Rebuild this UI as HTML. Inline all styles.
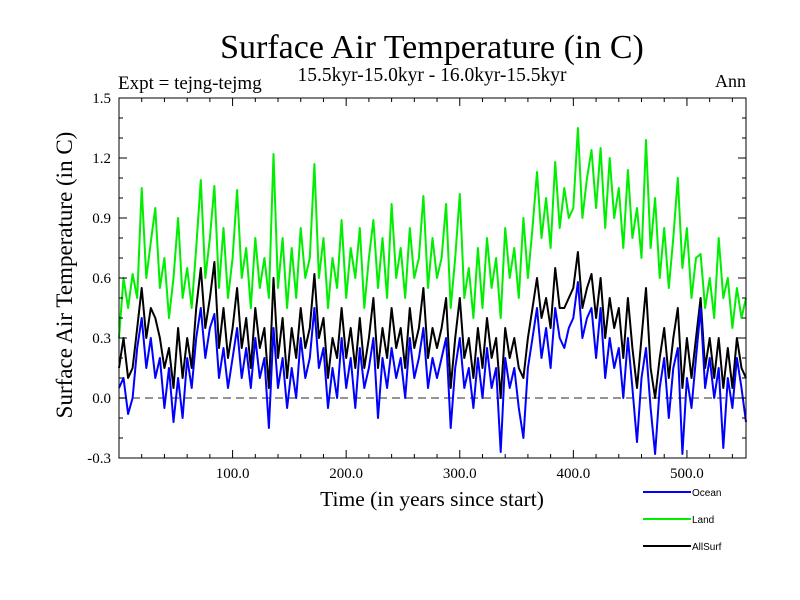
<!DOCTYPE html>
<html><head><meta charset="utf-8"><style>
html,body{margin:0;padding:0;background:#fff;}
svg{display:block;font-family:"Liberation Serif",serif;}
</style></head><body>
<svg id="chart" width="800" height="600" viewBox="0 0 800 600">
<text x="432" y="58" text-anchor="middle" font-size="34">Surface Air Temperature (in C)</text>
<text x="432" y="81" text-anchor="middle" font-size="19.5">15.5kyr-15.0kyr - 16.0kyr-15.5kyr</text>
<text x="118" y="89" font-size="19">Expt = tejng-tejmg</text>
<text x="746" y="87" text-anchor="end" font-size="18">Ann</text>
<text transform="translate(72,275) rotate(-90)" text-anchor="middle" font-size="23">Surface Air Temperature (in C)</text>
<text x="432" y="506" text-anchor="middle" font-size="21.5">Time (in years since start)</text>
<g id="plot"></g>
<g id="axes"></g>
<g id="legend"></g>
</svg>
<script>
const startYear = 0;
const stepYears = 4;
const landValues = [0.3,0.6,0.45,0.62,0.5,1.05,0.6,0.78,0.95,0.55,
0.7,0.4,0.6,0.9,0.5,0.65,0.45,0.75,1.09,0.6,
0.8,1.06,0.55,0.85,0.5,0.7,1.04,0.6,0.75,0.45,
0.8,0.55,0.7,0.5,1.22,0.55,0.8,0.45,0.75,0.5,
0.85,0.6,0.7,1.17,0.6,0.8,0.45,0.7,0.55,0.89,
0.5,0.75,0.6,0.85,0.45,0.7,0.89,0.55,0.8,0.5,
0.97,0.6,0.75,0.5,0.85,0.6,0.7,1.01,0.55,0.8,
0.6,0.7,0.97,0.45,0.7,1.02,0.5,0.65,0.4,0.75,
0.45,0.8,0.55,0.7,0.4,0.85,0.6,0.75,0.5,0.9,
0.6,0.85,1.13,0.8,1.0,0.75,1.18,0.85,1.05,0.9,
0.95,1.35,0.9,1.1,1.24,0.95,1.25,0.85,1.2,0.9,
1.05,0.75,1.14,0.8,0.95,0.7,1.29,0.75,1.0,0.6,
0.85,0.55,0.8,1.1,0.65,0.85,0.5,0.7,0.72,0.45,
0.6,0.4,0.8,0.5,0.6,0.35,0.55,0.4,0.5];
const oceanValues = [0.05,0.1,-0.08,0.0,0.25,0.4,0.15,0.3,0.1,0.2,
-0.05,0.15,-0.12,0.1,-0.1,0.2,0.05,0.3,0.45,0.2,
0.35,0.42,0.1,0.25,0.05,0.2,0.35,0.1,0.25,0.05,
0.3,0.1,0.2,-0.15,0.35,0.05,0.2,-0.05,0.15,0.0,
0.3,0.1,0.2,0.45,0.15,0.25,-0.05,0.15,0.0,0.3,
0.05,0.2,-0.05,0.25,0.05,0.15,0.3,-0.1,0.2,0.05,
0.25,0.1,0.2,0.0,0.3,0.1,0.2,0.35,0.05,0.2,
0.1,0.2,0.3,-0.15,0.15,0.3,0.05,0.15,-0.05,0.2,
0.0,0.25,0.05,0.15,-0.27,0.2,0.05,0.15,-0.05,-0.2,
0.15,0.3,0.45,0.2,0.35,0.15,0.45,0.3,0.25,0.35,
0.4,0.58,0.3,0.4,0.45,0.2,0.45,0.1,0.3,0.15,
0.25,0.0,0.3,0.05,-0.22,0.1,0.25,-0.05,-0.28,0.05,
0.2,-0.1,0.15,0.25,-0.28,0.1,-0.05,0.2,0.45,0.05,
0.2,0.0,0.15,-0.25,0.1,-0.05,0.2,0.05,-0.12];
const allSurfValues = [0.15,0.3,0.1,0.15,0.35,0.55,0.3,0.45,0.4,0.3,
0.15,0.25,0.05,0.35,0.1,0.3,0.15,0.45,0.65,0.35,
0.5,0.68,0.25,0.45,0.2,0.35,0.55,0.25,0.4,0.15,
0.45,0.25,0.35,0.05,0.6,0.2,0.4,0.1,0.35,0.2,
0.45,0.25,0.35,0.62,0.3,0.4,0.1,0.3,0.2,0.45,
0.2,0.35,0.15,0.4,0.15,0.3,0.5,0.15,0.35,0.2,
0.45,0.25,0.35,0.15,0.45,0.25,0.35,0.55,0.2,0.35,
0.25,0.35,0.5,0.05,0.3,0.5,0.2,0.3,0.1,0.35,
0.15,0.4,0.2,0.3,0.0,0.35,0.2,0.3,0.15,0.1,
0.3,0.45,0.6,0.4,0.5,0.35,0.65,0.45,0.45,0.5,
0.55,0.73,0.45,0.55,0.62,0.4,0.6,0.3,0.5,0.35,
0.45,0.2,0.5,0.25,0.05,0.3,0.55,0.15,0.0,0.2,
0.35,0.1,0.3,0.45,0.05,0.3,0.1,0.3,0.5,0.15,
0.3,0.1,0.3,0.05,0.25,0.05,0.3,0.15,0.1];
const xTickValues = [100,200,300,400,500];
const xTickLabels = ["100.0","200.0","300.0","400.0","500.0"];
const yTickValues = [-0.3,0.0,0.3,0.6,0.9,1.2,1.5];
const yTickLabels = ["-0.3","0.0","0.3","0.6","0.9","1.2","1.5"];
const legendNames = ["Ocean","Land","AllSurf"];
const legendColors = ["#0000ff","#00ee00","#000000"];

const NS="http://www.w3.org/2000/svg";
const L=119,R=746,T=98,B=458,xMin=0,xMax=552,yMin=-0.3,yMax=1.5;
function xs(v){return L+(v-xMin)/(xMax-xMin)*(R-L);}
function ys(v){return B-(v-yMin)/(yMax-yMin)*(B-T);}
function mk(tag,attrs,parent){const e=document.createElementNS(NS,tag);for(const k in attrs)e.setAttribute(k,attrs[k]);parent.appendChild(e);return e;}
const plot=document.getElementById('plot'),axes=document.getElementById('axes'),legend=document.getElementById('legend');

const zl=mk('line',{x1:L,x2:R,y1:ys(0),y2:ys(0),stroke:'#555','stroke-width':1.3,'stroke-dasharray':'8,5'},plot);



function series(vals,color,name){
  const pts=vals.map((v,i)=>xs(startYear+i*stepYears).toFixed(1)+','+ys(v).toFixed(1)).join(' ');
  const p=mk('polyline',{points:pts,fill:'none',stroke:color,'stroke-width':2,'stroke-linejoin':'round'},plot);
  
  
}
series(landValues,'#00ee00','land-line');
series(allSurfValues,'#000000','allsurf-line');
series(oceanValues,'#0000ff','ocean-line');

const fr=mk('rect',{x:L,y:T,width:R-L,height:B-T,fill:'none',stroke:'#000','stroke-width':1},axes);


for(let v=20;v<xMax;v+=20){
  const major=v%100===0,len=major?8:4,x=xs(v);
  mk('line',{x1:x,x2:x,y1:B,y2:B-len,stroke:'#000'},axes);
  mk('line',{x1:x,x2:x,y1:T,y2:T+len,stroke:'#000'},axes);
}
for(let k=-2;k<15;k++){
  const v=k/10,major=(k%3===0),len=major?8:4,y=ys(v);
  mk('line',{x1:L,x2:L+len,y1:y,y2:y,stroke:'#000'},axes);
  mk('line',{x1:R,x2:R-len,y1:y,y2:y,stroke:'#000'},axes);
}
xTickValues.forEach((v,i)=>{
  const t=mk('text',{x:xs(v),y:478,'text-anchor':'middle','font-size':15},axes);
  t.textContent=xTickLabels[i];
  
  
});
yTickValues.forEach((v,i)=>{
  const t=mk('text',{x:111,y:ys(v)+5,'text-anchor':'end','font-size':15},axes);
  t.textContent=yTickLabels[i];
  
  
});
legendNames.forEach((n,i)=>{
  const y=492+i*27;
  const ln=mk('line',{x1:643,x2:691,y1:y,y2:y,stroke:legendColors[i],'stroke-width':2},legend);
  
  
  const t=mk('text',{x:692,y:y+4,'font-size':10,'font-family':'Liberation Sans, sans-serif'},legend);
  t.textContent=n;
  
  
});
</script>
</body></html>
